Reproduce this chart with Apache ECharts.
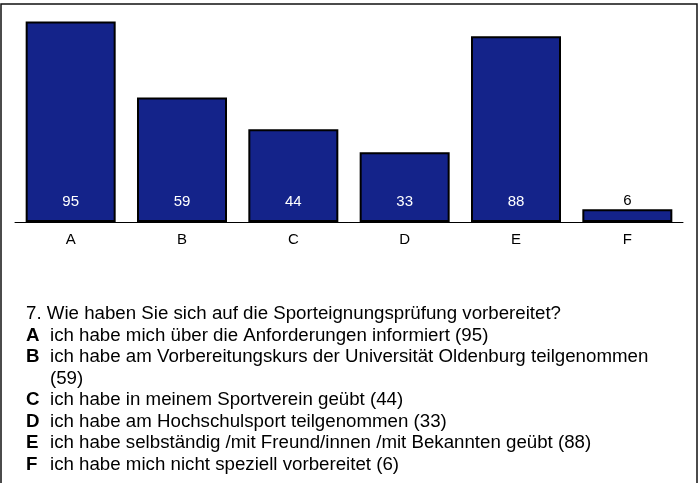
<!DOCTYPE html>
<html>
<head>
<meta charset="utf-8">
<script src="https://cdn.jsdelivr.net/npm/echarts@6/dist/echarts.min.js"></script>
<style>
  html, body { margin: 0; padding: 0; background: #fff; }
  #chart { width: 699px; height: 483px; }
</style>
</head>
<body>
<div id="chart"></div>
<script>
// data
const categories = ['A', 'B', 'C', 'D', 'E', 'F'];
const counts = [95, 59, 44, 33, 88, 6];
const question = '7. Wie haben Sie sich auf die Sporteignungsprüfung vorbereitet?';
const answerTexts = [
    'ich habe mich über die Anforderungen informiert (95)',
    'ich habe am Vorbereitungskurs der Universität Oldenburg teilgenommen\n(59)',
    'ich habe in meinem Sportverein geübt (44)',
    'ich habe am Hochschulsport teilgenommen (33)',
    'ich habe selbständig /mit Freund/innen /mit Bekannten geübt (88)',
    'ich habe mich nicht speziell vorbereitet (6)'
];

const font = '"Liberation Sans", Arial, sans-serif';
const textSize = 18.7;
const lineH = 21.5;
const firstLineY = 314; // centre of the question line

const chart = echarts.init(document.getElementById('chart'));

// frame + text block below the chart
const graphics = [
    {
        type: 'rect',
        shape: { x: 1, y: 4, width: 696, height: 490 },
        style: { fill: 'none', stroke: '#111', lineWidth: 1.5 },
        silent: true
    },
    {
        type: 'text', x: 26, y: firstLineY - lineH / 2,
        style: { text: question, font: textSize + 'px ' + font, fill: '#000',
                 lineHeight: lineH, verticalAlign: 'top' }
    }
];
let line = 1;
categories.forEach((c, i) => {
    const y = firstLineY + line * lineH - lineH / 2;
    graphics.push({
        type: 'text', x: 26, y: y,
        style: { text: c, font: 'bold ' + textSize + 'px ' + font, fill: '#000',
                 lineHeight: lineH, verticalAlign: 'top' }
    });
    graphics.push({
        type: 'text', x: 50, y: y,
        style: { text: answerTexts[i], font: textSize + 'px ' + font, fill: '#000',
                 lineHeight: lineH, verticalAlign: 'top' }
    });
    line += answerTexts[i].split('\n').length;
});

chart.setOption({
    animation: false,
    grid: { left: 15, right: 16, top: 11, bottom: 261, containLabel: false },
    xAxis: [
        {
            type: 'category',
            data: categories,
            axisLine: { lineStyle: { color: '#000', width: 1 } },
            axisTick: { alignWithLabel: true, length: 4, lineStyle: { color: '#000' } },
            axisLabel: { color: '#000', fontSize: 15, fontFamily: font, margin: 10 }
        },
        {
            // second axis only to draw the upper half of the ticks
            type: 'category',
            data: categories,
            position: 'bottom',
            axisLine: { show: false },
            axisTick: { inside: true, alignWithLabel: true, length: 4, lineStyle: { color: '#000' } },
            axisLabel: { show: false }
        }
    ],
    yAxis: {
        type: 'value',
        min: 0,
        max: 100,
        show: false,
        splitLine: { show: false }
    },
    series: [{
        type: 'bar',
        barWidth: 90,
        data: counts.map((v, i) => i === 5 ? {
            value: v,
            label: { position: 'top', color: '#000', distance: 1 }
        } : v),
        itemStyle: { color: '#14238A', borderColor: '#000', borderWidth: 2 },
        label: {
            show: true,
            position: 'insideBottom',
            distance: 13,
            color: '#fff',
            fontSize: 15,
            fontFamily: font
        }
    }],
    graphic: graphics
});
</script>
</body>
</html>
